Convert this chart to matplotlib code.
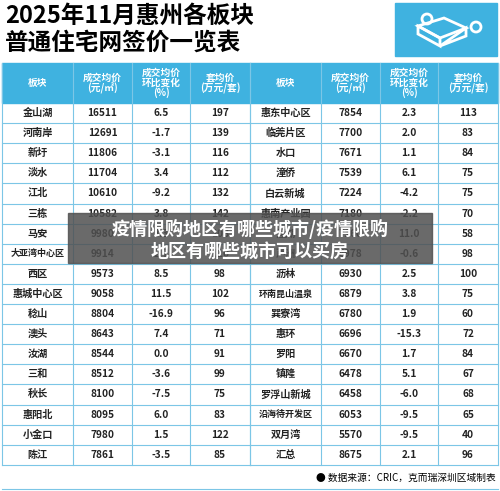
import matplotlib.pyplot as plt
from matplotlib.patches import Rectangle, Polygon, Circle

plt.rcParams['font.family'] = ['Noto Sans CJK SC', 'DejaVu Sans']

left_names = ['金山湖', '河南岸', '新圩', '淡水', '江北', '三栋', '马安', '大亚湾中心区', '西区',
              '惠城中心区', '稔山', '澳头', '汝湖', '三和', '秋长', '惠阳北', '小金口', '陈江']
left_price = [16511, 12691, 11806, 11704, 10610, 10582, 9980, 9914, 9573,
              9058, 8804, 8643, 8544, 8512, 8100, 8095, 7980, 7861]
left_change = [6.5, -1.7, -3.1, 3.4, -9.2, 3.8, 3.3, 2.7, 8.5,
               11.5, -16.9, 7.4, 0.0, -3.6, -7.5, 6.0, 1.5, -3.5]
left_unit = [197, 139, 116, 112, 132, 142, 108, 110, 98,
             102, 96, 71, 91, 99, 75, 83, 122, 85]

right_names = ['惠东中心区', '临莞片区', '水口', '潼侨', '白云新城', '惠南产业园', '潼湖', '芦洲', '沥林',
               '环南昆山温泉', '巽寮湾', '惠环', '罗阳', '镇隆', '罗浮山新城', '沿海待开发区', '双月湾', '汇总']
right_price = [7854, 7700, 7671, 7539, 7224, 7180, 7160, 6978, 6930,
               6879, 6780, 6696, 6670, 6478, 6458, 6053, 5570, 8675]
right_change = [2.3, 2.0, 1.1, 6.1, -4.2, -2.2, 11.0, -0.6, 2.5,
                3.8, 1.9, -15.3, 1.7, 5.1, -6.0, -9.5, -9.5, 2.1]
right_unit = [113, 83, 84, 75, 75, 70, 58, 98, 100,
              75, 60, 72, 84, 67, 68, 65, 40, 96]

headers = ['板块', '成交均价\n(元/㎡)', '成交均价\n环比变化\n(%)', '套均价\n(万元/套)']

fig = plt.figure(figsize=(5, 4.91), dpi=100)
ax = fig.add_axes([0, 0, 1, 1])
ax.set_xlim(0, 500)
ax.set_ylim(491, 0)
ax.axis('off')

blue = '#3fb2e0'
line = '#7cc6e6'

ax.text(5, 16, '2025年11月惠州各板块', fontsize=17, fontweight='bold', va='center')
ax.text(5, 43, '普通住宅网签价一览表', fontsize=17, fontweight='bold', va='center')
ax.add_patch(Rectangle((395, 3), 102, 53, color=blue))
# glasses icon
ax.add_patch(Polygon([(418, 26), (440, 38), (466, 28), (444, 18)], closed=True,
                     fill=False, ec='white', lw=2))
ax.add_patch(Polygon([(418, 26), (418, 34), (440, 46), (440, 38)], closed=True,
                     fill=False, ec='white', lw=2))
ax.add_patch(Polygon([(440, 46), (466, 36), (466, 28)], closed=True,
                     fill=False, ec='white', lw=2))
ax.add_patch(Circle((427, 19), 5, fill=False, ec='white', lw=2))
ax.add_patch(Circle((476, 27), 5, fill=False, ec='white', lw=2))

col_edges = [2, 73, 132, 190, 250]
top, head_h, row_h = 63, 40, 20.1
for off, names, price, change, unit in [(0, left_names, left_price, left_change, left_unit),
                                         (248, right_names, right_price, right_change, right_unit)]:
    xs = [e + off for e in col_edges]
    ax.add_patch(Rectangle((xs[0], top), xs[-1] - xs[0], head_h, color=blue))
    for j, h in enumerate(headers):
        cx = (xs[j] + xs[j + 1]) / 2
        ax.text(cx, top + head_h / 2, h, color='white', fontsize=7, fontweight='bold',
                ha='center', va='center', linespacing=1.0)
    for i in range(len(names)):
        cy = top + head_h + row_h * (i + 0.5)
        vals = [names[i], str(price[i]), f'{change[i]:.1f}', str(unit[i])]
        for j, v in enumerate(vals):
            cx = (xs[j] + xs[j + 1]) / 2
            fs = 7.3 if len(v) <= 5 else 6.5
            ax.text(cx, cy, v, fontsize=fs, fontweight='bold', ha='center', va='center', color='#222222')
        ax.plot([xs[0], xs[-1]], [cy + row_h / 2] * 2, color=line, lw=0.8)
    bottom = top + head_h + row_h * len(names)
    for x in xs:
        ax.plot([x, x], [top, bottom], color=line, lw=0.8)

ax.plot([2, 498], [491 - 2, 491 - 2], color=line, lw=0.8)
ax.text(496, 478, '● 数据来源：CRIC，克而瑞深圳区域制表', fontsize=7, ha='right', va='center')

# overlay banner
ax.add_patch(Rectangle((68, 213), 364, 50, color='#505050', alpha=0.85, zorder=5))
ax.text(250, 229, '疫情限购地区有哪些城市/疫情限购', fontsize=13, fontweight='bold',
        color='white', ha='center', va='center', zorder=6)
ax.text(250, 251, '地区有哪些城市可以买房', fontsize=13, fontweight='bold',
        color='white', ha='center', va='center', zorder=6)

fig.savefig('out.png', dpi=100)
